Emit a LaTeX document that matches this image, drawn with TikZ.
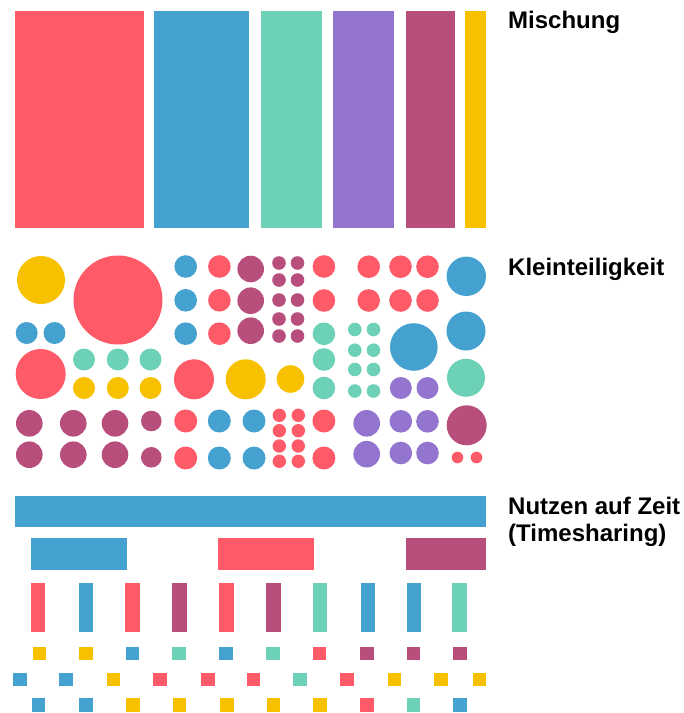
\documentclass[tikz,border=0pt]{standalone}
\usepackage{fontspec}
\setmainfont{Liberation Sans}
\definecolor{cred}{HTML}{FF5A68}
\definecolor{cblue}{HTML}{45A1CF}
\definecolor{cteal}{HTML}{6CD1B7}
\definecolor{cpurple}{HTML}{9375D0}
\definecolor{cmag}{HTML}{B74E7C}
\definecolor{cyel}{HTML}{F8C100}
\newcommand\cdisc[4]{\fill[#1] (#2,#3) circle[radius=#4pt];}
\newcommand\rbox[5]{\fill[#1] (#2,#3) rectangle (#4,#5);}
\tikzset{label text/.style={anchor=base west, inner sep=0pt, font=\bfseries\fontsize{24}{28}\selectfont, align=left}}
\begin{document}
\begin{tikzpicture}[x=1pt,y=-1pt]
\useasboundingbox (0,0) rectangle (684,713);
% --- Mischung bars
\rbox{cred}{15}{11}{144}{228}
\rbox{cblue}{154}{11}{249}{228}
\rbox{cteal}{261}{11}{322}{228}
\rbox{cpurple}{333}{11}{394}{228}
\rbox{cmag}{406}{11}{455}{228}
\rbox{cyel}{465}{11}{486}{228}
\node[label text] (mischung) at (508,28) {Mischung};
% --- Kleinteiligkeit
\cdisc{cyel}{41}{280}{24}
\cdisc{cred}{118}{300}{44.5}
\cdisc{cblue}{26.7}{333}{11}
\cdisc{cblue}{54.5}{333}{11}
\cdisc{cred}{40.7}{374}{25}
\foreach \x in {84,117.8,150.5}{\cdisc{cteal}{\x}{359.5}{11}\cdisc{cyel}{\x}{388}{11}}
\foreach \x in {29.3,73.3,115}{\cdisc{cmag}{\x}{423.3}{13.3}\cdisc{cmag}{\x}{454.7}{13.3}}
\cdisc{cmag}{151.3}{421}{10.3}
\cdisc{cmag}{151.3}{457.3}{10.3}
% middle
\foreach \y in {266.5,300.3,333.7}{\cdisc{cblue}{185.7}{\y}{11.3}\cdisc{cred}{219.4}{\y}{11.3}}
\foreach \y in {269,300.7,330.7}{\cdisc{cmag}{250.7}{\y}{13.3}}
\foreach \y in {263,280,300,319,336}{\cdisc{cmag}{279}{\y}{6.8}\cdisc{cmag}{297.5}{\y}{6.8}}
\cdisc{cred}{323.9}{266.5}{11.3}
\cdisc{cred}{323.9}{300.5}{11.3}
\foreach \y in {333.8,359.5,388}{\cdisc{cteal}{323.9}{\y}{11.3}}
\cdisc{cred}{194}{379.3}{20}
\cdisc{cyel}{245.7}{379.3}{20}
\cdisc{cyel}{290.5}{379}{13.8}
\foreach \y in {421,458}{\cdisc{cred}{185.7}{\y}{11.5}\cdisc{cblue}{219.3}{\y}{11.5}\cdisc{cblue}{254}{\y}{11.5}\cdisc{cred}{323.9}{\y}{11.5}}
\foreach \y in {415.3,430.7,446,461.3}{\cdisc{cred}{279.3}{\y}{6.7}\cdisc{cred}{298.3}{\y}{6.7}}
% right
\foreach \y in {266.7,300.5}{\cdisc{cred}{368.7}{\y}{11.3}\cdisc{cred}{400.5}{\y}{11.3}\cdisc{cred}{427.5}{\y}{11.3}}
\cdisc{cblue}{466.3}{276.3}{19.7}
\cdisc{cblue}{466}{331}{19.5}
\cdisc{cteal}{466}{377.8}{19}
\cdisc{cmag}{466.7}{425.3}{20}
\cdisc{cred}{457.5}{457.5}{5.8}
\cdisc{cred}{476.5}{457.5}{5.8}
\foreach \y in {329.5,350.2,369.5,391}{\cdisc{cteal}{354.8}{\y}{6.8}\cdisc{cteal}{373.5}{\y}{6.8}}
\cdisc{cblue}{413.8}{347}{23.8}
\cdisc{cpurple}{400.8}{388}{11}
\cdisc{cpurple}{427.5}{388}{11}
\cdisc{cpurple}{366.7}{423.3}{13.3}
\cdisc{cpurple}{366.7}{454.2}{13.3}
\foreach \y in {421.3,453}{\cdisc{cpurple}{400.8}{\y}{11.3}\cdisc{cpurple}{427.5}{\y}{11.3}}
\node[label text] (klein) at (508,275) {Kleinteiligkeit};
% --- Nutzen auf Zeit
\rbox{cblue}{15}{496}{486}{527.3}
\rbox{cblue}{30.7}{538.3}{126.7}{570}
\rbox{cred}{217.7}{538.3}{314.3}{570}
\rbox{cmag}{406}{538.3}{486}{570}
\foreach \x/\c in {30.7/cred,78.7/cblue,125/cred,172.3/cmag,219.3/cred,266/cmag,312.7/cteal,360.7/cblue,406.7/cblue,452/cteal}
  {\rbox{\c}{\x}{583.3}{\x+14.7}{632.3}}
\foreach \x/\c in {32.7/cyel,79/cyel,125.7/cblue,172.3/cteal,219.3/cblue,266/cteal,312.7/cred,360/cmag,406.7/cmag,453.3/cmag}
  {\rbox{\c}{\x}{646.7}{\x+13.6}{660.3}}
\foreach \x/\c in {13.3/cblue,59.3/cblue,106.7/cyel,153.3/cred,201/cred,246.7/cred,293.3/cteal,340/cred,387.7/cyel,434.3/cyel,472.7/cyel}
  {\rbox{\c}{\x}{672.7}{\x+13.6}{686.3}}
\foreach \x/\c in {31.7/cblue,79/cblue,126/cyel,172.7/cyel,220/cyel,266.7/cyel,313.3/cyel,360/cred,406.7/cteal,453.3/cblue}
  {\rbox{\c}{\x}{698.3}{\x+13.6}{711.9}}
\node[label text] (nutzen) at (508,514) {Nutzen auf Zeit};
\node[label text] (timesharing) at (508,541.5) {(Timesharing)};
\end{tikzpicture}
\end{document}
